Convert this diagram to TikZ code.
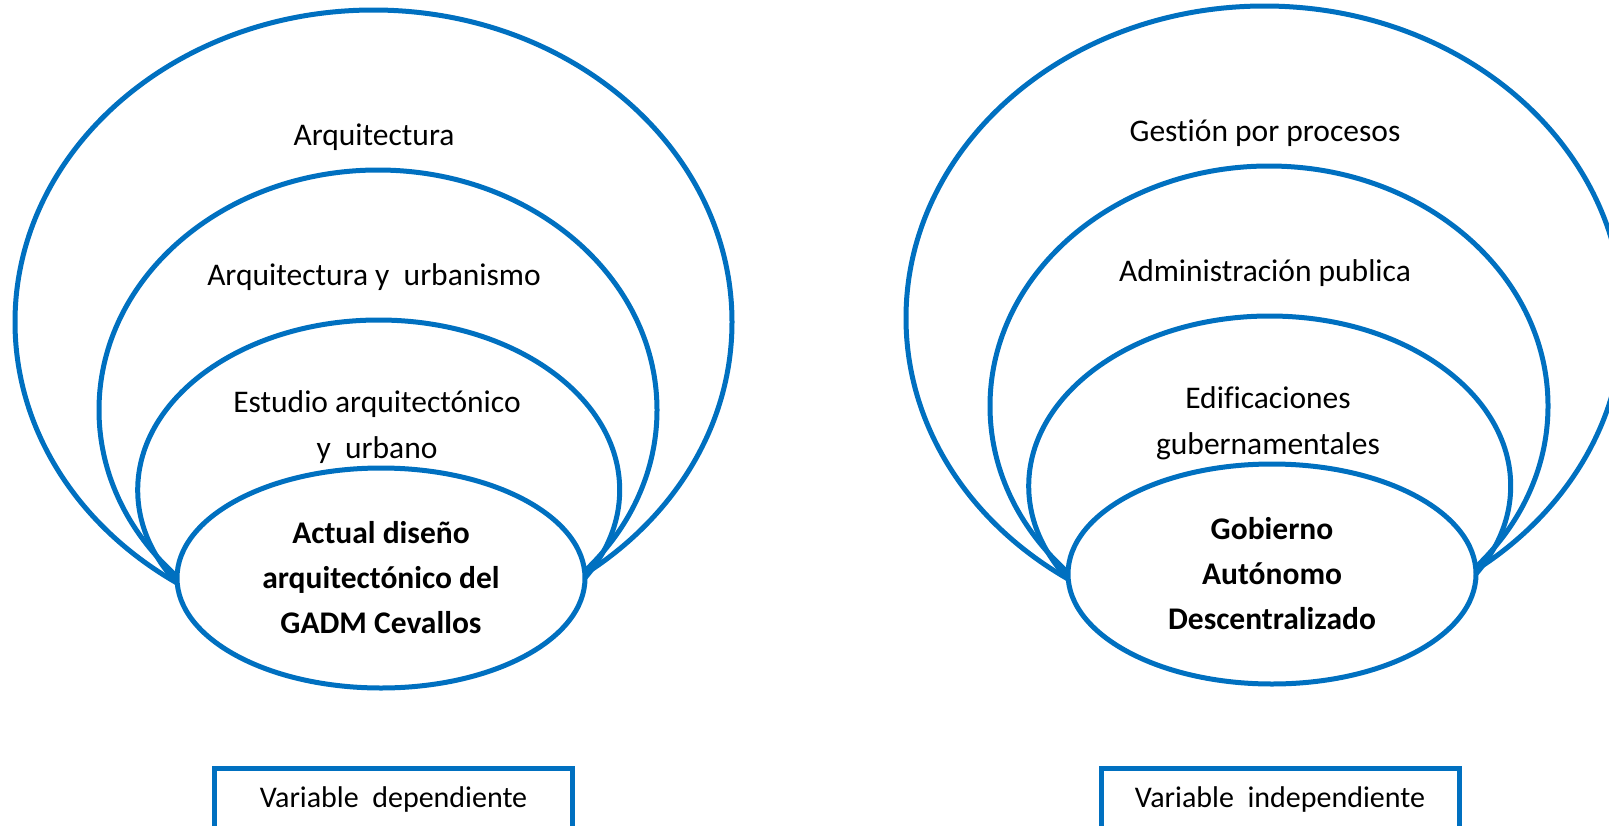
\documentclass[tikz,border=0pt]{standalone}
\usepackage{fontspec}
\setmainfont{Carlito}[Ligatures=NoCommon]
\usetikzlibrary{shapes.geometric}
\definecolor{ringColor}{HTML}{0070C0}
\tikzset{ring/.style={draw=ringColor, line width=5pt, ellipse, inner sep=0pt}}
\tikzset{ring label/.style={font=\fontsize{31.5}{46}\selectfont, align=center}}
\tikzset{core/.style={ring, fill=white, align=center, font=\bfseries\fontsize{31.5}{45}\selectfont}}
\tikzset{var box/.style={draw=ringColor, line width=5pt, rectangle, minimum width=358pt,
		minimum height=62pt, font=\fontsize{30}{36}\selectfont}}

\begin{document}
\begin{tikzpicture}[x=1pt, y=-1pt]
	\path[use as bounding box] (0,0) rectangle (1609,825);
	\clip (0,0) rectangle (1609,825);
	% variable dependiente
	\node[ring, minimum width=717pt, minimum height=624pt] at (373.5,322) (arq) {};
	\node[ring, minimum width=558pt, minimum height=480pt] at (378,410)   (arq_urb) {};
	\node[ring, minimum width=482pt, minimum height=340pt] at (378.7,490) (est) {};
	\node[core, minimum width=408pt, minimum height=220pt] at (381,578)   (dis)
		{Actual diseño\\arquitectónico del\\GADM Cevallos};
	\node[ring label] at (374,137) (arq_txt) {Arquitectura};
	\node[ring label] at (374,277) (arq_urb_txt) {Arquitectura y\ \ urbanismo};
	\node[ring label] at (377,427) (est_txt) {Estudio arquitectónico\\y\ \ urbano};
	\node[var box] at (393.5,799) (dep) {Variable\ \ dependiente};
	% variable independiente
	\node[ring, minimum width=717pt, minimum height=624pt] at (1264.5,318) (gest) {};
	\node[ring, minimum width=558pt, minimum height=480pt] at (1269,406)   (adm) {};
	\node[ring, minimum width=482pt, minimum height=340pt] at (1269.7,486) (edif) {};
	\node[core, minimum width=408pt, minimum height=220pt] at (1272,574)   (gad)
		{Gobierno\\Autónomo\\Descentralizado};
	\node[ring label] at (1265,133) (gest_txt) {Gestión por procesos};
	\node[ring label] at (1265,273) (adm_txt) {Administración publica};
	\node[ring label] at (1268,423) (edif_txt) {Edificaciones\\gubernamentales};
	\node[var box] at (1280,799) (indep) {Variable\ \ independiente};
\end{tikzpicture}
\end{document}
